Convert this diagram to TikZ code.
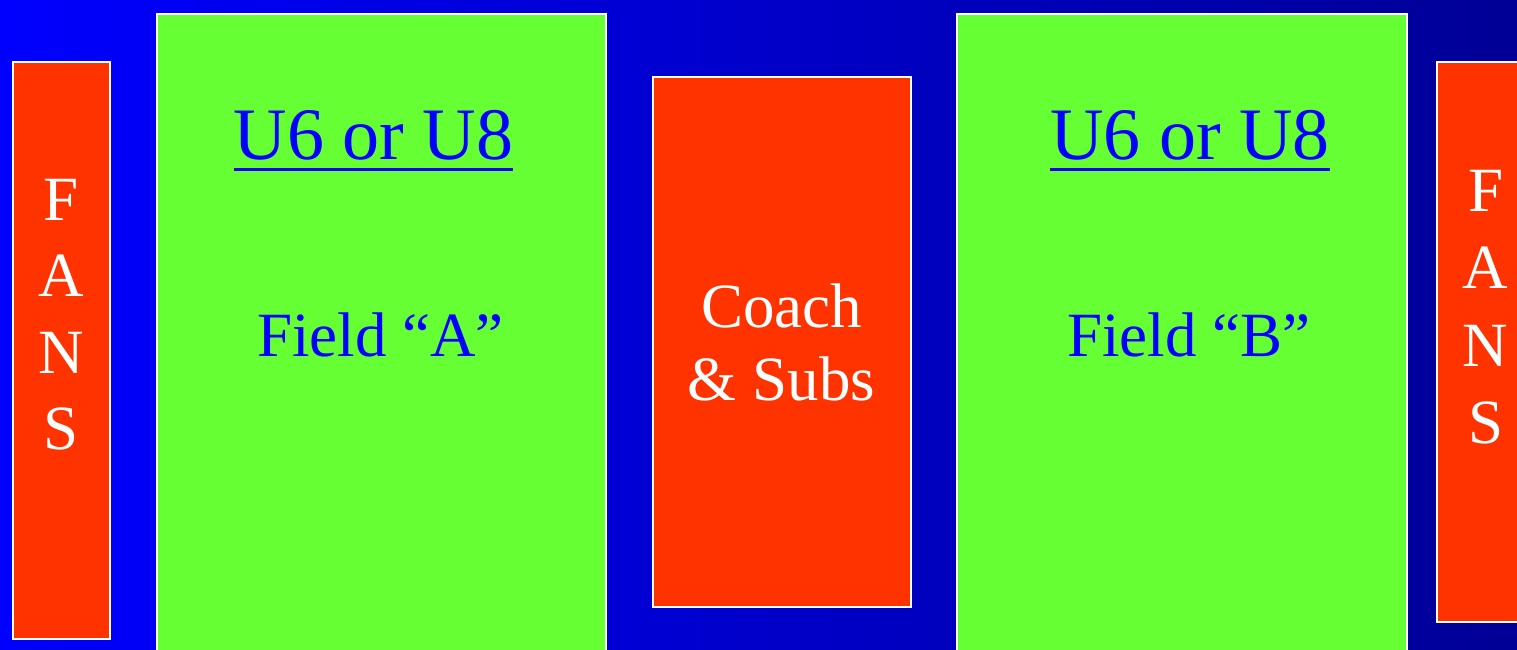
\documentclass[tikz,border=0pt]{standalone}
\usepackage{fontspec}
\setmainfont{Liberation Serif}
\definecolor{fanred}{RGB}{255,51,0}
\definecolor{fieldgreen}{RGB}{102,255,51}
\definecolor{txtblue}{RGB}{0,0,255}
\definecolor{bgleft}{RGB}{0,0,255}
\definecolor{bgright}{RGB}{0,0,150}
\newcommand\myul[1]{\setbox0\hbox{#1}\rlap{\raisebox{-12pt}{\rule{\wd0}{3pt}}}\box0}
\begin{document}
\begin{tikzpicture}[x=1pt,y=-1pt,
  fansbox/.style={draw=white,line width=2.5pt,fill=fanred,inner sep=0pt},
  fieldbox/.style={draw=white,line width=2.5pt,fill=fieldgreen,inner sep=0pt},
  wlbl/.style={font=\fontsize{63}{75}\selectfont,text=white,anchor=base,inner sep=0pt},
  blbl/.style={font=\fontsize{63}{75}\selectfont,text=txtblue,anchor=base,inner sep=0pt},
  ttl/.style={font=\fontsize{74}{88}\selectfont,text=txtblue,anchor=base,inner sep=0pt}]
\useasboundingbox (0,0) rectangle (1517,650);
\clip (0,0) rectangle (1517,650);
\shade[left color=bgleft,right color=bgright] (0,0) rectangle (1517,650);
% boxes
\node[fansbox,minimum width=97,minimum height=577] (fansL) at (61.5,350.5) {};
\node[fieldbox,minimum width=449,minimum height=666] (fieldA) at (381.5,347) {};
\node[fansbox,minimum width=258,minimum height=530] (coach) at (782,342) {};
\node[fieldbox,minimum width=450,minimum height=666] (fieldB) at (1182,347) {};
\node[fansbox,minimum width=97,minimum height=560] (fansR) at (1485.5,342) {};
% left fans
\node[wlbl] (fl1) at (61.5,220) {F};
\node[wlbl] (fl2) at (61.5,296.5) {A};
\node[wlbl] (fl3) at (61.5,373) {N};
\node[wlbl] (fl4) at (61.5,449.5) {S};
% right fans
\node[wlbl] (fr1) at (1485.5,211.5) {F};
\node[wlbl] (fr2) at (1485.5,288) {A};
\node[wlbl] (fr3) at (1485.5,366) {N};
\node[wlbl] (fr4) at (1485.5,443) {S};
% field A
\node[ttl] (ttlA) at (373.5,159) {\myul{U6 or U8}};
\node[blbl] (nameA) at (380.5,356) {Field “A”};
% coach
\node[wlbl] (c1) at (781.5,327) {Coach};
\node[wlbl] (c2) at (781.5,400) {\& Subs};
% field B
\node[ttl] (ttlB) at (1190,159) {\myul{U6 or U8}};
\node[blbl] (nameB) at (1189,356) {Field “B”};
\end{tikzpicture}
\end{document}
